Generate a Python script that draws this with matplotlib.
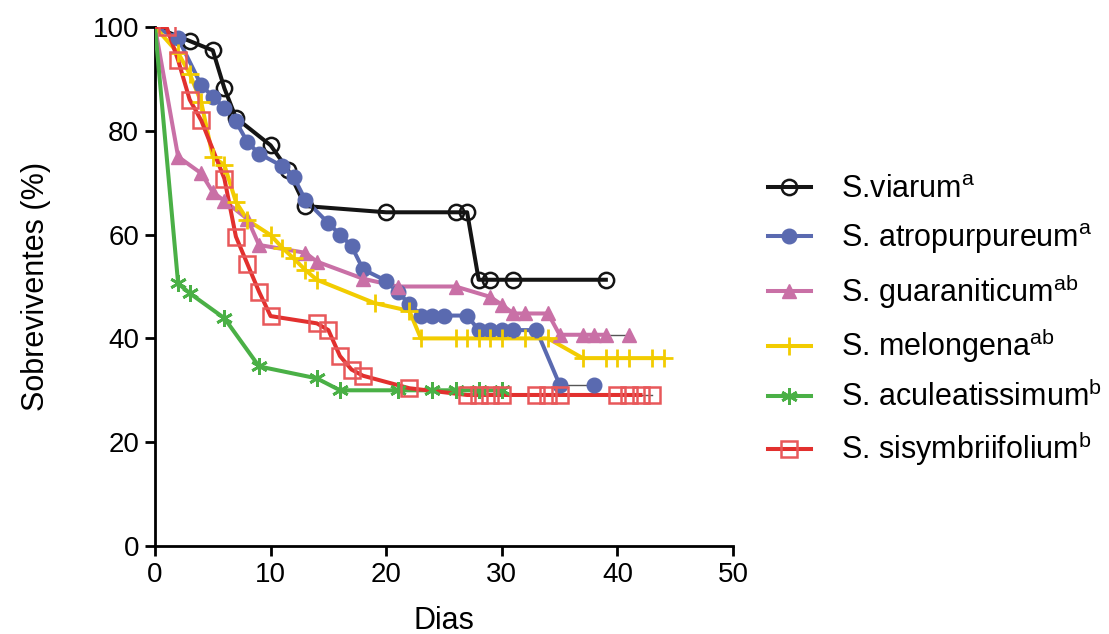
import numpy as np
import matplotlib as mpl
import matplotlib.pyplot as plt

# survival (%) per day for each Solanum species
viarum_d = [0, 3, 5, 6, 7, 10, 11.5, 13, 20, 26, 27, 28, 29, 31, 39]
viarum_s = [100, 97.3, 95.5, 88.2, 82.5, 77.2, 72.5, 65.5, 64.3, 64.3, 64.3, 51.3, 51.3, 51.3, 51.3]

atro_d = [0, 2, 4, 5, 6, 7, 8, 9, 11, 12, 13, 15, 16, 17, 18, 20, 21, 22, 23, 24, 25, 27,
          28, 29, 30, 31, 33, 35, 38]
atro_s = [100, 97.8, 88.8, 86.6, 84.4, 81.8, 77.8, 75.6, 73.2, 71.1, 66.7, 62.2, 60.0, 57.8,
          53.3, 51.1, 48.9, 46.7, 44.4, 44.4, 44.4, 44.4, 41.6, 41.6, 41.6, 41.6, 41.6, 31.1, 31.1]

guar_d = [0, 2, 4, 5, 6, 8, 9, 13, 14, 18, 21, 26, 29, 30, 31, 32, 34, 35, 37, 38, 39, 41]
guar_s = [100, 75.0, 71.8, 68.2, 66.5, 63.0, 58.0, 56.5, 54.8, 51.5, 50.0, 50.0, 48.0, 46.5,
          44.8, 44.8, 44.8, 40.7, 40.7, 40.7, 40.7, 40.7]

mel_d = [0, 2, 3, 4, 5, 6, 7, 8, 10, 11, 12, 13, 14, 19, 22, 23, 26, 27, 28, 29, 30, 32, 34,
         37, 39, 40, 41, 43, 44]
mel_s = [100, 95.0, 91.0, 85.5, 75.0, 73.4, 66.3, 62.8, 59.9, 57.5, 55.4, 53.2, 51.3, 46.8,
         45.3, 40.0, 40.0, 40.0, 40.0, 40.0, 40.0, 40.0, 40.0, 36.2, 36.2, 36.2, 36.2, 36.2, 36.2]

acul_d = [0, 2, 3, 6, 9, 14, 16, 21, 24, 26, 28, 30]
acul_s = [100, 50.6, 48.7, 43.9, 34.6, 32.3, 30.0, 30.0, 30.0, 30.0, 30.0, 30.0]

sisy_d = [0, 1, 2, 3, 4, 6, 7, 8, 9, 10, 14, 15, 16, 17, 18, 22, 27, 28, 29, 30, 33, 34, 35,
          40, 41, 42, 43]
sisy_s = [100, 100, 93.6, 86.0, 82.0, 70.8, 59.6, 54.3, 49.0, 44.3, 42.9, 41.6, 36.6, 34.0,
          32.8, 30.4, 29.1, 29.1, 29.1, 29.1, 29.1, 29.1, 29.1, 29.1, 29.1, 29.1, 29.1]

labels = [r"S.viarum$^{a}$", r"S. atropurpureum$^{a}$", r"S. guaraniticum$^{ab}$",
          r"S. melongena$^{ab}$", r"S. aculeatissimum$^{b}$", r"S. sisymbriifolium$^{b}$"]

mpl.rcParams.update({
    "font.family": ["Liberation Sans", "DejaVu Sans"],
    "mathtext.default": "regular",
    "font.size": 22,
    "xtick.labelsize": 20,
    "ytick.labelsize": 20,
    "axes.linewidth": 2.0,
})

# colour, marker, marker face, marker size, edge width, thin last segment
styles = [
    ("#141414", "o", "none", 11, 1.8, False),
    ("#5A6AB0", "o", "#5A6AB0", 10.5, 1.0, True),
    ("#C970A6", "^", "#C970A6", 10.5, 1.0, True),
    ("#F2CC00", "+", "none", 13, 2.0, False),
    ("#4AB046", (6, 2, 0), "none", 12, 2.0, False),
    ("#E2302E", "s", "none", 11.5, 1.8, True),
]
series = [(viarum_d, viarum_s), (atro_d, atro_s), (guar_d, guar_s),
          (mel_d, mel_s), (acul_d, acul_s), (sisy_d, sisy_s)]

fig = plt.figure(figsize=(11.09, 6.34), dpi=100)
ax = fig.add_axes([155 / 1109, 88 / 634, 578 / 1109, 519 / 634])

handles = []
for (d, s), (col, mk, mfc, ms, mew, thin) in zip(series, styles):
    d = np.asarray(d, float)
    s = np.asarray(s, float)
    ecol = "#E8585A" if mk == "s" else col
    n = len(d) - 1 if thin else len(d)
    ax.plot(d[:n], s[:n], color=col, lw=2.9, zorder=3)
    if thin:
        ax.plot(d[-2:], s[-2:], color="#555555", lw=1.0, zorder=2)
    ax.plot(d[1:], s[1:], ls="none", marker=mk, ms=ms, mfc=mfc, mec=ecol,
            mew=mew, zorder=4)
    h, = ax.plot([], [], color=col, lw=2.9, marker=mk, ms=ms, mfc=mfc,
                 mec=ecol, mew=mew)
    handles.append(h)

ax.set_xlim(0, 50)
ax.set_ylim(0, 100)
ax.set_xticks(np.arange(0, 51, 10))
ax.set_yticks(np.arange(0, 101, 20))
ax.spines["top"].set_visible(False)
ax.spines["right"].set_visible(False)
ax.tick_params(direction="out", length=7.5, width=2.0, pad=4)
ax.set_xlabel("Dias", labelpad=13)
ax.set_ylabel("Sobreviventes (%)", labelpad=30)

fig.legend(handles, labels, loc="upper left", bbox_to_anchor=(768 / 1109, 1 - 175 / 634),
           frameon=False, handlelength=1.4, handletextpad=1.0, labelspacing=0.52,
           borderpad=0, borderaxespad=0, numpoints=1, fontsize=22)

fig.savefig("out.png", dpi=100)
